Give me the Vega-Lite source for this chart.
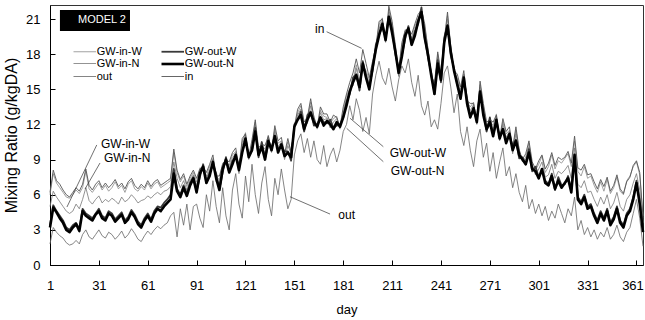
{
"$schema": "https://vega.github.io/schema/vega-lite/v6.json",
"width": 593, "height": 260,
"autosize": {"type": "none"},
"padding": {"left": 50, "top": 5, "right": 2, "bottom": 55},
"config": {"font": "Liberation Sans", "view": {"stroke": "#333", "strokeWidth": 1},
 "axis": {"grid": false, "domainColor": "#000", "tickColor": "#000", "labelColor": "#000", "titleColor": "#000", "labelFont": "Liberation Sans", "titleFont": "Liberation Sans", "labelFontSize": 13, "titleFontSize": 13, "titleFontWeight": "normal", "labelOverlap": false},
 "axisX": {"values": [1, 31, 61, 91, 121, 151, 181, 211, 241, 271, 301, 331, 361], "tickSize": -5, "labelPadding": 19, "titlePadding": 11, "format": "d", "labelFlush": false},
 "axisY": {"values": [0, 3, 6, 9, 12, 15, 18, 21], "tickCount": 8, "tickSize": -5, "labelPadding": 15, "titlePadding": 6, "titleFontSize": 16, "labelFlush": false}},
"encoding": {
 "x": {"type": "quantitative", "title": "day", "scale": {"domain": [1, 365], "nice": false, "zero": false},
  "axis": {"values": [1, 31, 61, 91, 121, 151, 181, 211, 241, 271, 301, 331, 361], "labelOverlap": false, "labelOffset": {"condition": {"test": "datum.value == 361", "value": -4}, "value": 0}}},
 "y": {"type": "quantitative", "title": "Mixing Ratio (g/kgDA)", "scale": {"domain": [0, 22.2], "nice": false},
  "axis": {"values": [0, 3, 6, 9, 12, 15, 18, 21], "labelOverlap": false}}
},
"layer": [
{
"data": {"values": [
{"day":1,"GW-in-W":6.0,"GW-in-N":5.0,"out":1.8,"GW-out-W":3.4,"GW-out-N":3.2,"in":6.2},
{"day":3,"GW-in-W":7.8,"GW-in-N":6.3,"out":3.2,"GW-out-W":5.1,"GW-out-N":4.9,"in":8.1},
{"day":5,"GW-in-W":7.0,"GW-in-N":5.8,"out":2.8,"GW-out-W":4.6,"GW-out-N":4.5,"in":7.2},
{"day":7,"GW-in-W":6.6,"GW-in-N":5.4,"out":2.5,"GW-out-W":4.2,"GW-out-N":4.0,"in":6.9},
{"day":9,"GW-in-W":6.2,"GW-in-N":5.0,"out":2.3,"GW-out-W":3.8,"GW-out-N":3.6,"in":6.4},
{"day":11,"GW-in-W":5.8,"GW-in-N":4.6,"out":1.9,"GW-out-W":3.2,"GW-out-N":3.0,"in":6.0},
{"day":13,"GW-in-W":5.7,"GW-in-N":4.4,"out":1.7,"GW-out-W":3.0,"GW-out-N":2.8,"in":5.8},
{"day":15,"GW-in-W":6.0,"GW-in-N":4.6,"out":1.8,"GW-out-W":3.4,"GW-out-N":3.2,"in":6.2},
{"day":17,"GW-in-W":6.4,"GW-in-N":5.2,"out":2.1,"GW-out-W":3.6,"GW-out-N":3.5,"in":6.6},
{"day":19,"GW-in-W":6.1,"GW-in-N":4.8,"out":1.8,"GW-out-W":3.1,"GW-out-N":2.9,"in":6.3},
{"day":21,"GW-in-W":6.6,"GW-in-N":5.6,"out":2.6,"GW-out-W":4.8,"GW-out-N":4.6,"in":6.9},
{"day":23,"GW-in-W":8.0,"GW-in-N":6.6,"out":3.0,"GW-out-W":4.4,"GW-out-N":4.2,"in":8.2},
{"day":25,"GW-in-W":6.5,"GW-in-N":5.5,"out":2.4,"GW-out-W":4.2,"GW-out-N":4.0,"in":6.8},
{"day":27,"GW-in-W":6.2,"GW-in-N":5.2,"out":2.2,"GW-out-W":4.0,"GW-out-N":3.8,"in":6.4},
{"day":29,"GW-in-W":6.6,"GW-in-N":5.6,"out":2.6,"GW-out-W":4.4,"GW-out-N":4.3,"in":6.9},
{"day":31,"GW-in-W":7.0,"GW-in-N":5.9,"out":3.0,"GW-out-W":4.8,"GW-out-N":4.6,"in":7.2},
{"day":33,"GW-in-W":6.4,"GW-in-N":5.3,"out":2.5,"GW-out-W":4.2,"GW-out-N":4.0,"in":6.6},
{"day":35,"GW-in-W":6.8,"GW-in-N":5.6,"out":2.3,"GW-out-W":4.0,"GW-out-N":3.8,"in":7.0},
{"day":37,"GW-in-W":6.3,"GW-in-N":5.4,"out":2.8,"GW-out-W":4.6,"GW-out-N":4.4,"in":6.6},
{"day":39,"GW-in-W":6.6,"GW-in-N":5.7,"out":2.6,"GW-out-W":4.4,"GW-out-N":4.2,"in":6.9},
{"day":41,"GW-in-W":7.1,"GW-in-N":5.5,"out":2.2,"GW-out-W":3.9,"GW-out-N":3.7,"in":7.3},
{"day":43,"GW-in-W":6.5,"GW-in-N":5.2,"out":2.5,"GW-out-W":4.2,"GW-out-N":4.0,"in":6.7},
{"day":45,"GW-in-W":6.8,"GW-in-N":5.8,"out":2.9,"GW-out-W":4.5,"GW-out-N":4.3,"in":7.0},
{"day":47,"GW-in-W":6.2,"GW-in-N":5.4,"out":2.3,"GW-out-W":3.8,"GW-out-N":3.6,"in":6.5},
{"day":49,"GW-in-W":6.9,"GW-in-N":5.6,"out":2.6,"GW-out-W":4.1,"GW-out-N":3.9,"in":7.1},
{"day":51,"GW-in-W":7.2,"GW-in-N":6.0,"out":3.1,"GW-out-W":4.7,"GW-out-N":4.5,"in":7.4},
{"day":53,"GW-in-W":6.5,"GW-in-N":5.7,"out":2.7,"GW-out-W":4.3,"GW-out-N":4.1,"in":6.8},
{"day":55,"GW-in-W":6.3,"GW-in-N":5.3,"out":2.2,"GW-out-W":3.7,"GW-out-N":3.5,"in":6.5},
{"day":57,"GW-in-W":6.7,"GW-in-N":5.5,"out":2.0,"GW-out-W":3.4,"GW-out-N":3.2,"in":6.9},
{"day":59,"GW-in-W":6.4,"GW-in-N":5.6,"out":2.5,"GW-out-W":4.0,"GW-out-N":3.8,"in":6.6},
{"day":61,"GW-in-W":7.0,"GW-in-N":5.9,"out":2.9,"GW-out-W":4.4,"GW-out-N":4.2,"in":7.2},
{"day":63,"GW-in-W":6.5,"GW-in-N":5.7,"out":2.6,"GW-out-W":3.9,"GW-out-N":3.7,"in":6.7},
{"day":65,"GW-in-W":6.9,"GW-in-N":6.0,"out":3.0,"GW-out-W":4.6,"GW-out-N":4.4,"in":7.1},
{"day":67,"GW-in-W":7.1,"GW-in-N":6.2,"out":3.3,"GW-out-W":5.0,"GW-out-N":4.8,"in":7.3},
{"day":69,"GW-in-W":6.6,"GW-in-N":6.0,"out":3.1,"GW-out-W":4.9,"GW-out-N":4.6,"in":6.8},
{"day":71,"GW-in-W":6.8,"GW-in-N":6.3,"out":3.4,"GW-out-W":5.3,"GW-out-N":5.0,"in":7.0},
{"day":73,"GW-in-W":7.0,"GW-in-N":6.4,"out":3.6,"GW-out-W":5.6,"GW-out-N":5.3,"in":7.2},
{"day":75,"GW-in-W":7.2,"GW-in-N":6.7,"out":4.2,"GW-out-W":6.0,"GW-out-N":5.6,"in":7.4},
{"day":77,"GW-in-W":9.6,"GW-in-N":8.8,"out":4.5,"GW-out-W":8.2,"GW-out-N":7.8,"in":9.9},
{"day":79,"GW-in-W":7.9,"GW-in-N":7.4,"out":2.4,"GW-out-W":6.5,"GW-out-N":6.3,"in":8.1},
{"day":81,"GW-in-W":7.1,"GW-in-N":6.6,"out":4.8,"GW-out-W":6.0,"GW-out-N":5.8,"in":7.3},
{"day":83,"GW-in-W":7.6,"GW-in-N":7.2,"out":3.4,"GW-out-W":6.8,"GW-out-N":6.6,"in":7.8},
{"day":85,"GW-in-W":6.7,"GW-in-N":6.4,"out":5.2,"GW-out-W":6.1,"GW-out-N":5.9,"in":6.9},
{"day":87,"GW-in-W":7.4,"GW-in-N":7.2,"out":3.0,"GW-out-W":7.0,"GW-out-N":6.8,"in":7.6},
{"day":89,"GW-in-W":7.9,"GW-in-N":7.7,"out":5.0,"GW-out-W":7.5,"GW-out-N":7.4,"in":8.1},
{"day":91,"GW-in-W":7.1,"GW-in-N":6.8,"out":5.2,"GW-out-W":6.3,"GW-out-N":6.2,"in":7.4},
{"day":93,"GW-in-W":8.3,"GW-in-N":8.1,"out":4.0,"GW-out-W":7.5,"GW-out-N":7.8,"in":8.2},
{"day":95,"GW-in-W":8.2,"GW-in-N":8.3,"out":3.2,"GW-out-W":8.6,"GW-out-N":8.4,"in":8.4},
{"day":97,"GW-in-W":7.6,"GW-in-N":7.4,"out":6.0,"GW-out-W":7.0,"GW-out-N":7.0,"in":7.9},
{"day":99,"GW-in-W":8.4,"GW-in-N":8.1,"out":4.6,"GW-out-W":7.9,"GW-out-N":7.6,"in":8.6},
{"day":101,"GW-in-W":9.1,"GW-in-N":9.0,"out":7.2,"GW-out-W":8.6,"GW-out-N":8.8,"in":9.4},
{"day":103,"GW-in-W":7.5,"GW-in-N":7.1,"out":5.0,"GW-out-W":7.8,"GW-out-N":7.4,"in":7.6},
{"day":105,"GW-in-W":7.3,"GW-in-N":7.0,"out":3.6,"GW-out-W":6.5,"GW-out-N":6.4,"in":7.6},
{"day":107,"GW-in-W":8.7,"GW-in-N":8.5,"out":6.6,"GW-out-W":7.9,"GW-out-N":8.2,"in":8.6},
{"day":109,"GW-in-W":8.8,"GW-in-N":8.9,"out":4.2,"GW-out-W":9.2,"GW-out-N":9.0,"in":9.0},
{"day":111,"GW-in-W":8.5,"GW-in-N":8.3,"out":3.0,"GW-out-W":7.9,"GW-out-N":7.9,"in":8.8},
{"day":113,"GW-in-W":9.4,"GW-in-N":9.1,"out":6.4,"GW-out-W":8.9,"GW-out-N":8.6,"in":9.6},
{"day":115,"GW-in-W":9.7,"GW-in-N":9.6,"out":7.8,"GW-out-W":9.2,"GW-out-N":9.4,"in":10.0},
{"day":117,"GW-in-W":8.2,"GW-in-N":7.8,"out":5.2,"GW-out-W":8.5,"GW-out-N":8.1,"in":8.3},
{"day":119,"GW-in-W":10.5,"GW-in-N":10.2,"out":4.0,"GW-out-W":9.7,"GW-out-N":9.6,"in":10.8},
{"day":121,"GW-in-W":11.3,"GW-in-N":11.1,"out":7.6,"GW-out-W":10.5,"GW-out-N":10.8,"in":11.2},
{"day":123,"GW-in-W":9.0,"GW-in-N":9.1,"out":5.4,"GW-out-W":9.4,"GW-out-N":9.2,"in":9.2},
{"day":125,"GW-in-W":10.4,"GW-in-N":10.2,"out":8.6,"GW-out-W":9.8,"GW-out-N":9.8,"in":10.7},
{"day":127,"GW-in-W":12.2,"GW-in-N":11.9,"out":6.0,"GW-out-W":11.7,"GW-out-N":11.4,"in":12.4},
{"day":129,"GW-in-W":9.7,"GW-in-N":9.6,"out":4.4,"GW-out-W":9.2,"GW-out-N":9.4,"in":10.0},
{"day":131,"GW-in-W":10.2,"GW-in-N":9.8,"out":7.0,"GW-out-W":10.5,"GW-out-N":10.1,"in":10.3},
{"day":133,"GW-in-W":9.9,"GW-in-N":9.6,"out":8.4,"GW-out-W":9.1,"GW-out-N":9.0,"in":10.2},
{"day":135,"GW-in-W":11.1,"GW-in-N":10.9,"out":5.6,"GW-out-W":10.3,"GW-out-N":10.6,"in":11.0},
{"day":137,"GW-in-W":9.6,"GW-in-N":9.7,"out":4.2,"GW-out-W":10.0,"GW-out-N":9.8,"in":9.8},
{"day":139,"GW-in-W":11.6,"GW-in-N":11.4,"out":7.4,"GW-out-W":11.0,"GW-out-N":11.0,"in":11.9},
{"day":141,"GW-in-W":10.4,"GW-in-N":10.1,"out":6.0,"GW-out-W":9.9,"GW-out-N":9.6,"in":10.6},
{"day":143,"GW-in-W":10.6,"GW-in-N":10.5,"out":8.2,"GW-out-W":10.1,"GW-out-N":10.3,"in":10.9},
{"day":145,"GW-in-W":9.4,"GW-in-N":9.0,"out":6.4,"GW-out-W":9.7,"GW-out-N":9.3,"in":9.5},
{"day":147,"GW-in-W":10.5,"GW-in-N":10.2,"out":4.8,"GW-out-W":9.7,"GW-out-N":9.6,"in":10.8},
{"day":149,"GW-in-W":9.7,"GW-in-N":9.5,"out":5.6,"GW-out-W":8.9,"GW-out-N":9.2,"in":9.6},
{"day":151,"GW-in-W":11.6,"GW-in-N":11.7,"out":9.4,"GW-out-W":12.0,"GW-out-N":11.8,"in":11.8},
{"day":153,"GW-in-W":13.0,"GW-in-N":12.8,"out":10.6,"GW-out-W":12.4,"GW-out-N":12.4,"in":13.3},
{"day":155,"GW-in-W":13.6,"GW-in-N":13.3,"out":11.2,"GW-out-W":13.1,"GW-out-N":12.8,"in":13.8},
{"day":157,"GW-in-W":11.9,"GW-in-N":11.8,"out":9.6,"GW-out-W":11.4,"GW-out-N":11.6,"in":12.2},
{"day":159,"GW-in-W":12.5,"GW-in-N":12.1,"out":10.8,"GW-out-W":12.8,"GW-out-N":12.4,"in":12.6},
{"day":161,"GW-in-W":13.9,"GW-in-N":13.6,"out":9.2,"GW-out-W":13.1,"GW-out-N":13.0,"in":14.2},
{"day":163,"GW-in-W":12.7,"GW-in-N":12.5,"out":10.6,"GW-out-W":11.9,"GW-out-N":12.2,"in":12.6},
{"day":165,"GW-in-W":11.6,"GW-in-N":11.7,"out":9.0,"GW-out-W":12.0,"GW-out-N":11.8,"in":11.8},
{"day":167,"GW-in-W":13.2,"GW-in-N":13.0,"out":8.6,"GW-out-W":12.6,"GW-out-N":12.6,"in":13.5},
{"day":169,"GW-in-W":12.7,"GW-in-N":12.4,"out":10.2,"GW-out-W":12.2,"GW-out-N":11.9,"in":12.9},
{"day":171,"GW-in-W":12.6,"GW-in-N":12.5,"out":8.4,"GW-out-W":12.1,"GW-out-N":12.3,"in":12.9},
{"day":173,"GW-in-W":12.1,"GW-in-N":11.7,"out":9.4,"GW-out-W":12.4,"GW-out-N":12.0,"in":12.2},
{"day":175,"GW-in-W":12.5,"GW-in-N":12.2,"out":10.0,"GW-out-W":11.7,"GW-out-N":11.6,"in":12.8},
{"day":177,"GW-in-W":12.7,"GW-in-N":12.5,"out":8.8,"GW-out-W":11.9,"GW-out-N":12.2,"in":12.6},
{"day":179,"GW-in-W":11.6,"GW-in-N":11.7,"out":9.8,"GW-out-W":12.0,"GW-out-N":11.8,"in":11.8},
{"day":181,"GW-in-W":13.2,"GW-in-N":13.0,"out":11.4,"GW-out-W":12.6,"GW-out-N":12.6,"in":13.5},
{"day":183,"GW-in-W":14.4,"GW-in-N":14.1,"out":12.0,"GW-out-W":13.9,"GW-out-N":13.6,"in":14.6},
{"day":185,"GW-in-W":15.1,"GW-in-N":15.0,"out":13.6,"GW-out-W":14.6,"GW-out-N":14.8,"in":15.6},
{"day":187,"GW-in-W":15.7,"GW-in-N":15.3,"out":12.4,"GW-out-W":16.0,"GW-out-N":15.6,"in":16.4},
{"day":189,"GW-in-W":17.1,"GW-in-N":16.8,"out":14.2,"GW-out-W":16.3,"GW-out-N":16.2,"in":17.6},
{"day":191,"GW-in-W":15.7,"GW-in-N":15.5,"out":13.2,"GW-out-W":14.9,"GW-out-N":15.2,"in":16.4},
{"day":193,"GW-in-W":17.0,"GW-in-N":17.1,"out":11.4,"GW-out-W":17.4,"GW-out-N":17.2,"in":18.4},
{"day":195,"GW-in-W":16.6,"GW-in-N":16.4,"out":12.6,"GW-out-W":16.0,"GW-out-N":16.0,"in":17.2},
{"day":197,"GW-in-W":15.8,"GW-in-N":15.5,"out":11.2,"GW-out-W":15.3,"GW-out-N":15.0,"in":16.0},
{"day":199,"GW-in-W":17.1,"GW-in-N":17.0,"out":14.6,"GW-out-W":16.6,"GW-out-N":16.8,"in":17.4},
{"day":201,"GW-in-W":18.5,"GW-in-N":18.1,"out":16.2,"GW-out-W":18.8,"GW-out-N":18.4,"in":18.6},
{"day":203,"GW-in-W":20.5,"GW-in-N":20.2,"out":17.4,"GW-out-W":19.7,"GW-out-N":19.6,"in":20.8},
{"day":205,"GW-in-W":21.1,"GW-in-N":20.9,"out":16.0,"GW-out-W":20.3,"GW-out-N":20.6,"in":21.0},
{"day":207,"GW-in-W":19.0,"GW-in-N":19.1,"out":15.4,"GW-out-W":19.4,"GW-out-N":19.2,"in":19.2},
{"day":209,"GW-in-W":21.8,"GW-in-N":21.6,"out":16.8,"GW-out-W":21.2,"GW-out-N":21.2,"in":22.1},
{"day":211,"GW-in-W":20.6,"GW-in-N":20.3,"out":15.2,"GW-out-W":20.1,"GW-out-N":19.8,"in":20.8},
{"day":213,"GW-in-W":18.5,"GW-in-N":18.4,"out":14.0,"GW-out-W":18.0,"GW-out-N":18.2,"in":18.8},
{"day":215,"GW-in-W":16.5,"GW-in-N":16.1,"out":15.8,"GW-out-W":16.8,"GW-out-N":16.4,"in":16.6},
{"day":217,"GW-in-W":18.7,"GW-in-N":18.4,"out":17.0,"GW-out-W":17.9,"GW-out-N":17.8,"in":19.0},
{"day":219,"GW-in-W":20.1,"GW-in-N":19.9,"out":16.4,"GW-out-W":19.3,"GW-out-N":19.6,"in":20.0},
{"day":221,"GW-in-W":20.0,"GW-in-N":20.1,"out":17.6,"GW-out-W":20.4,"GW-out-N":20.2,"in":20.2},
{"day":223,"GW-in-W":19.4,"GW-in-N":19.2,"out":15.6,"GW-out-W":18.8,"GW-out-N":18.8,"in":19.7},
{"day":225,"GW-in-W":20.4,"GW-in-N":20.1,"out":14.4,"GW-out-W":19.9,"GW-out-N":19.6,"in":20.6},
{"day":227,"GW-in-W":21.1,"GW-in-N":21.0,"out":16.2,"GW-out-W":20.6,"GW-out-N":20.8,"in":21.4},
{"day":229,"GW-in-W":21.7,"GW-in-N":21.3,"out":13.6,"GW-out-W":22.0,"GW-out-N":21.6,"in":21.8},
{"day":231,"GW-in-W":20.3,"GW-in-N":20.0,"out":12.8,"GW-out-W":19.5,"GW-out-N":19.4,"in":20.6},
{"day":233,"GW-in-W":18.5,"GW-in-N":18.3,"out":14.0,"GW-out-W":17.7,"GW-out-N":18.0,"in":18.4},
{"day":235,"GW-in-W":16.0,"GW-in-N":16.1,"out":11.8,"GW-out-W":16.4,"GW-out-N":16.2,"in":16.2},
{"day":237,"GW-in-W":15.2,"GW-in-N":15.0,"out":12.4,"GW-out-W":14.6,"GW-out-N":14.6,"in":15.5},
{"day":239,"GW-in-W":18.0,"GW-in-N":17.7,"out":11.6,"GW-out-W":17.5,"GW-out-N":17.2,"in":18.2},
{"day":241,"GW-in-W":16.1,"GW-in-N":16.0,"out":13.8,"GW-out-W":15.6,"GW-out-N":15.8,"in":16.4},
{"day":243,"GW-in-W":19.1,"GW-in-N":18.7,"out":16.4,"GW-out-W":19.4,"GW-out-N":19.0,"in":19.2},
{"day":245,"GW-in-W":21.3,"GW-in-N":21.0,"out":17.0,"GW-out-W":20.5,"GW-out-N":20.4,"in":21.6},
{"day":247,"GW-in-W":18.7,"GW-in-N":18.5,"out":15.2,"GW-out-W":17.9,"GW-out-N":18.2,"in":18.6},
{"day":249,"GW-in-W":16.4,"GW-in-N":16.5,"out":13.0,"GW-out-W":16.8,"GW-out-N":16.6,"in":16.6},
{"day":251,"GW-in-W":16.0,"GW-in-N":15.8,"out":14.6,"GW-out-W":15.4,"GW-out-N":15.4,"in":16.3},
{"day":253,"GW-in-W":15.0,"GW-in-N":14.7,"out":11.4,"GW-out-W":14.5,"GW-out-N":14.2,"in":15.2},
{"day":255,"GW-in-W":16.3,"GW-in-N":16.2,"out":10.2,"GW-out-W":15.8,"GW-out-N":16.0,"in":16.6},
{"day":257,"GW-in-W":13.9,"GW-in-N":13.5,"out":11.8,"GW-out-W":14.2,"GW-out-N":13.8,"in":14.0},
{"day":259,"GW-in-W":13.5,"GW-in-N":13.2,"out":9.8,"GW-out-W":12.7,"GW-out-N":12.6,"in":13.8},
{"day":261,"GW-in-W":13.9,"GW-in-N":13.7,"out":8.4,"GW-out-W":13.1,"GW-out-N":13.4,"in":13.8},
{"day":263,"GW-in-W":12.0,"GW-in-N":12.1,"out":10.6,"GW-out-W":12.4,"GW-out-N":12.2,"in":12.2},
{"day":265,"GW-in-W":15.4,"GW-in-N":15.2,"out":11.6,"GW-out-W":14.8,"GW-out-N":14.8,"in":15.7},
{"day":267,"GW-in-W":13.6,"GW-in-N":13.3,"out":9.2,"GW-out-W":13.1,"GW-out-N":12.8,"in":13.8},
{"day":269,"GW-in-W":11.9,"GW-in-N":11.8,"out":10.4,"GW-out-W":11.4,"GW-out-N":11.6,"in":12.2},
{"day":271,"GW-in-W":12.3,"GW-in-N":11.9,"out":8.0,"GW-out-W":12.6,"GW-out-N":12.2,"in":12.4},
{"day":273,"GW-in-W":11.9,"GW-in-N":11.6,"out":9.6,"GW-out-W":11.1,"GW-out-N":11.0,"in":12.2},
{"day":275,"GW-in-W":12.9,"GW-in-N":12.7,"out":7.4,"GW-out-W":12.1,"GW-out-N":12.4,"in":12.8},
{"day":277,"GW-in-W":10.6,"GW-in-N":10.7,"out":8.8,"GW-out-W":11.0,"GW-out-N":10.8,"in":10.8},
{"day":279,"GW-in-W":12.2,"GW-in-N":12.0,"out":10.0,"GW-out-W":11.6,"GW-out-N":11.6,"in":12.5},
{"day":281,"GW-in-W":11.2,"GW-in-N":10.9,"out":7.6,"GW-out-W":10.7,"GW-out-N":10.4,"in":11.4},
{"day":283,"GW-in-W":11.5,"GW-in-N":11.4,"out":8.4,"GW-out-W":11.0,"GW-out-N":11.2,"in":11.8},
{"day":285,"GW-in-W":9.9,"GW-in-N":9.5,"out":6.6,"GW-out-W":10.2,"GW-out-N":9.8,"in":10.0},
{"day":287,"GW-in-W":11.5,"GW-in-N":11.2,"out":7.8,"GW-out-W":10.7,"GW-out-N":10.6,"in":11.8},
{"day":289,"GW-in-W":9.9,"GW-in-N":9.7,"out":6.2,"GW-out-W":9.1,"GW-out-N":9.4,"in":9.8},
{"day":291,"GW-in-W":8.8,"GW-in-N":8.9,"out":5.4,"GW-out-W":9.2,"GW-out-N":9.0,"in":9.0},
{"day":293,"GW-in-W":9.2,"GW-in-N":9.0,"out":6.8,"GW-out-W":8.6,"GW-out-N":8.6,"in":9.5},
{"day":295,"GW-in-W":10.4,"GW-in-N":10.1,"out":4.8,"GW-out-W":9.9,"GW-out-N":9.6,"in":10.6},
{"day":297,"GW-in-W":8.5,"GW-in-N":8.4,"out":5.6,"GW-out-W":8.0,"GW-out-N":8.2,"in":8.8},
{"day":299,"GW-in-W":8.1,"GW-in-N":7.7,"out":4.4,"GW-out-W":8.4,"GW-out-N":8.0,"in":8.2},
{"day":301,"GW-in-W":8.6,"GW-in-N":8.2,"out":5.2,"GW-out-W":7.5,"GW-out-N":7.4,"in":8.9},
{"day":303,"GW-in-W":9.3,"GW-in-N":8.8,"out":4.2,"GW-out-W":8.0,"GW-out-N":8.2,"in":9.4},
{"day":305,"GW-in-W":7.9,"GW-in-N":7.5,"out":5.0,"GW-out-W":7.2,"GW-out-N":7.0,"in":8.2},
{"day":307,"GW-in-W":8.4,"GW-in-N":7.7,"out":3.8,"GW-out-W":6.9,"GW-out-N":6.8,"in":8.7},
{"day":309,"GW-in-W":9.4,"GW-in-N":8.6,"out":4.6,"GW-out-W":7.8,"GW-out-N":7.6,"in":9.6},
{"day":311,"GW-in-W":8.2,"GW-in-N":7.4,"out":4.0,"GW-out-W":6.4,"GW-out-N":6.5,"in":8.5},
{"day":313,"GW-in-W":8.9,"GW-in-N":8.0,"out":5.2,"GW-out-W":7.5,"GW-out-N":7.2,"in":9.2},
{"day":315,"GW-in-W":8.7,"GW-in-N":7.8,"out":4.4,"GW-out-W":6.8,"GW-out-N":6.6,"in":9.0},
{"day":317,"GW-in-W":9.1,"GW-in-N":8.1,"out":3.6,"GW-out-W":6.9,"GW-out-N":7.0,"in":9.2},
{"day":319,"GW-in-W":9.5,"GW-in-N":8.5,"out":4.8,"GW-out-W":7.6,"GW-out-N":7.4,"in":9.7},
{"day":321,"GW-in-W":8.4,"GW-in-N":7.4,"out":4.2,"GW-out-W":6.4,"GW-out-N":6.2,"in":8.7},
{"day":323,"GW-in-W":10.6,"GW-in-N":10.0,"out":5.8,"GW-out-W":9.0,"GW-out-N":9.4,"in":11.0},
{"day":325,"GW-in-W":8.0,"GW-in-N":6.9,"out":3.0,"GW-out-W":5.8,"GW-out-N":5.6,"in":8.3},
{"day":327,"GW-in-W":7.6,"GW-in-N":6.6,"out":3.8,"GW-out-W":5.4,"GW-out-N":5.2,"in":8.1},
{"day":329,"GW-in-W":8.4,"GW-in-N":7.2,"out":2.6,"GW-out-W":6.0,"GW-out-N":5.8,"in":8.6},
{"day":331,"GW-in-W":7.4,"GW-in-N":6.2,"out":3.2,"GW-out-W":5.0,"GW-out-N":4.8,"in":7.7},
{"day":333,"GW-in-W":7.6,"GW-in-N":6.3,"out":2.4,"GW-out-W":5.2,"GW-out-N":5.0,"in":7.8},
{"day":335,"GW-in-W":6.8,"GW-in-N":5.6,"out":3.0,"GW-out-W":4.4,"GW-out-N":4.2,"in":7.1},
{"day":337,"GW-in-W":6.2,"GW-in-N":5.0,"out":2.2,"GW-out-W":3.8,"GW-out-N":3.6,"in":6.5},
{"day":339,"GW-in-W":7.1,"GW-in-N":5.8,"out":2.8,"GW-out-W":4.6,"GW-out-N":4.4,"in":7.3},
{"day":341,"GW-in-W":6.3,"GW-in-N":5.2,"out":2.4,"GW-out-W":4.0,"GW-out-N":3.8,"in":6.7},
{"day":343,"GW-in-W":7.3,"GW-in-N":6.0,"out":3.2,"GW-out-W":4.8,"GW-out-N":4.6,"in":7.5},
{"day":345,"GW-in-W":6.1,"GW-in-N":4.8,"out":2.2,"GW-out-W":3.6,"GW-out-N":3.4,"in":6.3},
{"day":347,"GW-in-W":6.6,"GW-in-N":5.3,"out":2.6,"GW-out-W":4.1,"GW-out-N":3.9,"in":6.8},
{"day":349,"GW-in-W":7.5,"GW-in-N":6.2,"out":3.4,"GW-out-W":5.0,"GW-out-N":4.8,"in":7.7},
{"day":351,"GW-in-W":6.3,"GW-in-N":5.0,"out":2.4,"GW-out-W":3.8,"GW-out-N":3.6,"in":6.5},
{"day":353,"GW-in-W":6.0,"GW-in-N":4.6,"out":2.0,"GW-out-W":3.4,"GW-out-N":3.2,"in":6.1},
{"day":355,"GW-in-W":7.2,"GW-in-N":5.6,"out":2.8,"GW-out-W":4.4,"GW-out-N":4.2,"in":7.1},
{"day":357,"GW-in-W":7.6,"GW-in-N":6.0,"out":3.2,"GW-out-W":4.8,"GW-out-N":4.6,"in":7.5},
{"day":359,"GW-in-W":8.4,"GW-in-N":7.0,"out":4.4,"GW-out-W":5.8,"GW-out-N":5.6,"in":8.5},
{"day":361,"GW-in-W":8.8,"GW-in-N":7.8,"out":5.6,"GW-out-W":7.2,"GW-out-N":7.0,"in":8.9},
{"day":363,"GW-in-W":7.7,"GW-in-N":6.4,"out":4.0,"GW-out-W":5.4,"GW-out-N":5.2,"in":7.9},
{"day":365,"GW-in-W":4.2,"GW-in-N":3.6,"out":1.6,"GW-out-W":3.0,"GW-out-N":2.8,"in":4.0}
]},
"transform": [{"fold": ["out", "GW-in-N", "GW-in-W", "in", "GW-out-W", "GW-out-N"], "as": ["series", "value"]}],
"mark": {"type": "line", "strokeJoin": "round"},
"encoding": {
 "x": {"field": "day"},
 "y": {"field": "value"},
 "color": {"field": "series", "type": "nominal",
  "scale": {"domain": ["GW-in-W", "GW-in-N", "out", "GW-out-W", "GW-out-N", "in"], "range": ["#8a8a8a", "#777777", "#666666", "#3a3a3a", "#000000", "#555555"]},
  "legend": {"orient": "none", "legendX": 28.75, "legendY": 41, "columns": 2, "title": null, "symbolType": "M-2.5,0H2.5", "symbolSize": 81, "labelFontSize": 11, "labelFont": "Liberation Sans", "labelColor": "#000", "labelOffset": 6, "columnPadding": 13, "rowPadding": 0, "padding": 0}},
 "strokeWidth": {"field": "series", "type": "nominal",
  "scale": {"type": "ordinal", "domain": ["GW-in-W", "GW-in-N", "out", "GW-out-W", "GW-out-N", "in"], "range": [0.8, 0.8, 0.8, 1.8, 2.6, 0.9]},
  "legend": {"orient": "none", "legendX": 28.75, "legendY": 41, "columns": 2, "title": null, "symbolType": "M-2.5,0H2.5", "symbolSize": 81, "labelFontSize": 11, "labelFont": "Liberation Sans", "labelColor": "#000", "labelOffset": 6, "columnPadding": 13, "rowPadding": 0, "padding": 0}}
}
},
{
"data": {"values": [
 {"x1": 29.7, "y1": 10.25, "x2": 11.4, "y2": 4.95},
 {"x1": 31.7, "y1": 8.71, "x2": 22.5, "y2": 6.49},
 {"x1": 170.8, "y1": 19.92, "x2": 192.3, "y2": 18.5},
 {"x1": 205.6, "y1": 10.1, "x2": 185.2, "y2": 12.53},
 {"x1": 205.6, "y1": 8.82, "x2": 183.1, "y2": 11.67},
 {"x1": 148.3, "y1": 5.83, "x2": 172.9, "y2": 4.35}
]},
"mark": {"type": "rule", "color": "#333", "strokeWidth": 0.7},
"encoding": {
 "x": {"field": "x1"},
 "y": {"field": "y1"},
 "x2": {"field": "x2"},
 "y2": {"field": "y2"}
}
},
{
"data": {"values": [
 {"label": "GW-in-W", "day": 32.3, "value": 10.33},
 {"label": "GW-in-N", "day": 34.1, "value": 9.14},
 {"label": "in", "day": 163.7, "value": 20.15},
 {"label": "GW-out-W", "day": 209.5, "value": 9.54},
 {"label": "GW-out-N", "day": 210.1, "value": 8.05},
 {"label": "out", "day": 178, "value": 4.3}
]},
"mark": {"type": "text", "align": "left", "baseline": "middle", "fontSize": 12, "font": "Liberation Sans", "color": "#000"},
"encoding": {
 "x": {"field": "day"},
 "y": {"field": "value"},
 "text": {"field": "label"}
}
},
{
"data": {"values": [{"x1": 7.1, "x2": 50.1, "y1": 19.98, "y2": 21.77}]},
"mark": {"type": "rect", "color": "#000"},
"encoding": {
 "x": {"field": "x1"},
 "x2": {"field": "x2"},
 "y": {"field": "y1"},
 "y2": {"field": "y2"}
}
},
{
"data": {"values": [{"label": "MODEL 2", "day": 18.2, "value": 20.88}]},
"mark": {"type": "text", "align": "left", "baseline": "middle", "fontSize": 11, "font": "Liberation Sans", "color": "#fff"},
"encoding": {
 "x": {"field": "day"},
 "y": {"field": "value"},
 "text": {"field": "label"}
}
}
]
}
